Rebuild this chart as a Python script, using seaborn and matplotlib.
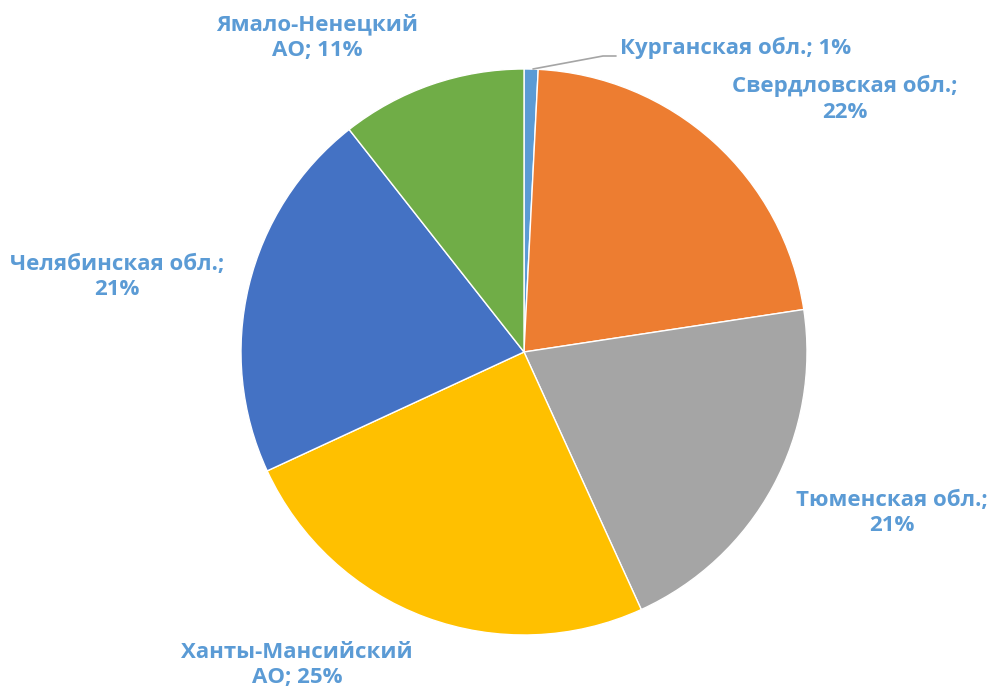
import matplotlib
matplotlib.use("Agg")
import matplotlib.pyplot as plt
import seaborn as sns

regions = ["Курганская обл.", "Свердловская обл.", "Тюменская обл.",
           "Ханты-Мансийский АО", "Челябинская обл.", "Ямало-Ненецкий АО"]
shares = [0.8, 21.8, 20.6, 24.9, 21.3, 10.6]
label_text = ["Курганская обл.; 1%", "Свердловская обл.;\n22%", "Тюменская обл.;\n21%",
              "Ханты-Мансийский\nАО; 25%", "Челябинская обл.;\n21%", "Ямало-Ненецкий\nАО; 11%"]
colors = ["#5B9BD5", "#ED7D31", "#A5A5A5", "#FFC000", "#4472C4", "#70AD47"]

sns.set_theme(style="white")
plt.rcParams["font.family"] = ["Open Sans", "DejaVu Sans"]

W, H = 994, 693
fig = plt.figure(figsize=(W / 100, H / 100), dpi=100)
ax = fig.add_axes([0, 0, 1, 1])
ax.axis("off")

cx, cy, r = 524, 352, 283
ax.pie(shares, colors=colors, startangle=90, counterclock=False,
       center=(cx, -cy), radius=r,
       wedgeprops=dict(edgecolor="white", linewidth=1))
# pie draws in y-up coords; flip back
for p in ax.patches:
    p.set_transform(matplotlib.transforms.Affine2D().scale(1, -1) + ax.transData)
ax.set_xlim(0, W)
ax.set_ylim(H, 0)
ax.set_aspect("equal")

label_pos = [(620, 48, "left"), (845, 99, "center"), (892, 513, "center"),
             (297, 665, "center"), (117, 277, "center"), (317, 37, "center")]
for txt, (x, y, ha) in zip(label_text, label_pos):
    ax.text(x, y, txt, ha=ha, va="center", color="#5B9BD5", fontsize=16,
            fontweight="bold", linespacing=1.3)

# leader line for the small slice
ax.plot([533, 603, 616], [69, 56, 56], color="#A5A5A5", lw=1.2)

fig.savefig("out.png", dpi=100)
